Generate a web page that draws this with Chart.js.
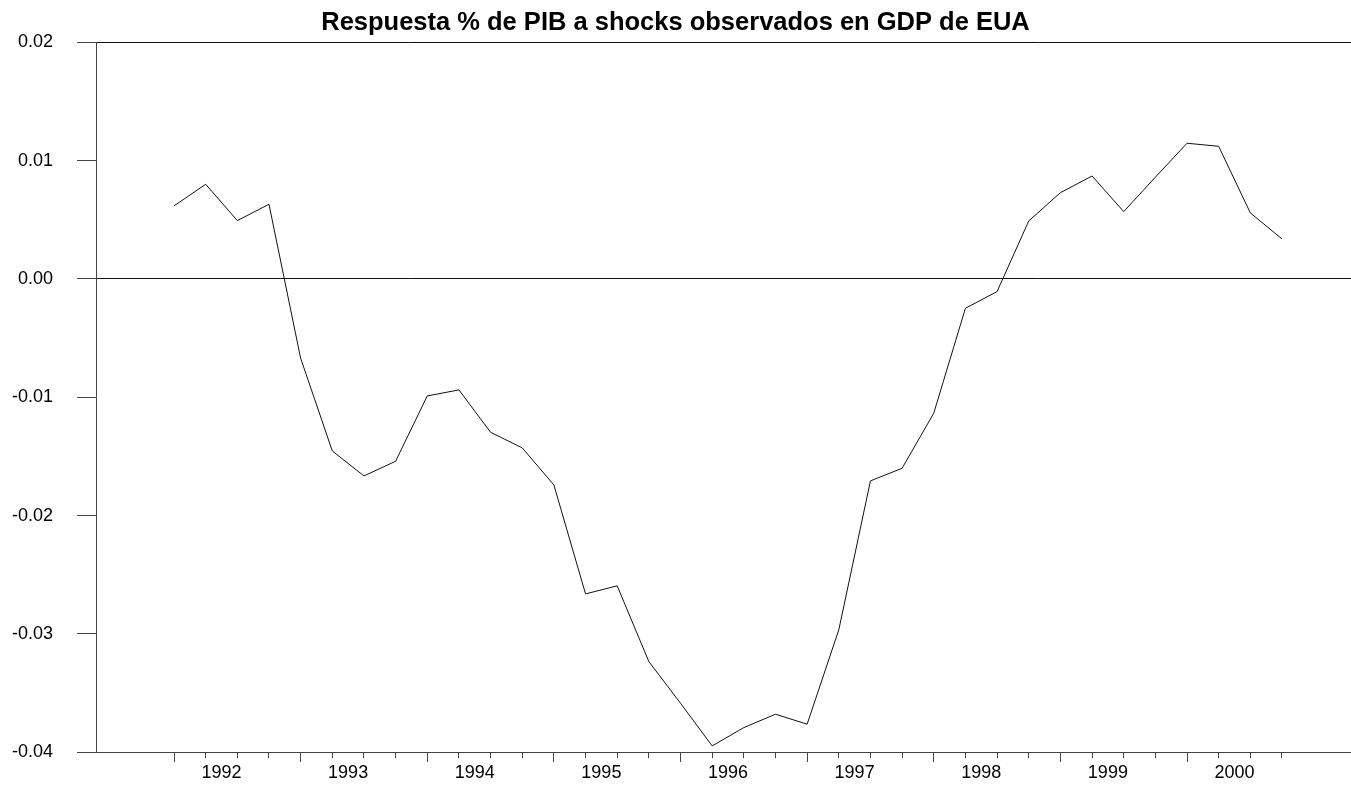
<!DOCTYPE html>
<html lang="es">
<head>
<meta charset="utf-8">
<title>Respuesta % de PIB a shocks observados en GDP de EUA</title>
<script src="https://cdn.jsdelivr.net/npm/chart.js@4/dist/chart.umd.min.js"></script>
<style>
  html, body { margin: 0; padding: 0; background: #fff; }
  #chart { display: block; }
</style>
</head>
<body>
<canvas id="chart" width="1351" height="787"></canvas>
<script>
// Quarterly periods, 1992:1 to 2000:4
const quarters = [
  '1992:1','1992:2','1992:3','1992:4','1993:1','1993:2','1993:3','1993:4',
  '1994:1','1994:2','1994:3','1994:4','1995:1','1995:2','1995:3','1995:4',
  '1996:1','1996:2','1996:3','1996:4','1997:1','1997:2','1997:3','1997:4',
  '1998:1','1998:2','1998:3','1998:4','1999:1','1999:2','1999:3','1999:4',
  '2000:1','2000:2','2000:3','2000:4'
];

// Response of GDP (%) to observed US GDP shocks
const respuesta = [
  0.00617, 0.00800, 0.00493, 0.00631, -0.00670, -0.01454, -0.01665, -0.01541,
  -0.00989, -0.00938, -0.01296, -0.01428, -0.01741, -0.02662, -0.02594, -0.03234,
  -0.03586, -0.03947, -0.03792, -0.03679, -0.03763, -0.02966, -0.01707, -0.01600,
  -0.01135, -0.00248, -0.00107, 0.00490, 0.00729, 0.00870, 0.00569, 0.00860,
  0.01147, 0.01121, 0.00558, 0.00338
];

// Axis labels
const yearLabels = ['1992','1993','1994','1995','1996','1997','1998','1999','2000'];
const yTicks = [-0.04, -0.03, -0.02, -0.01, 0.00, 0.01, 0.02];

const FONT = "'Liberation Sans', Arial, Helvetica, sans-serif";
const AXIS = '#444';

// x runs over the quarter index; the frame leaves room on both sides of the data
const X_MIN = -2.464;
const X_MAX = 37.18;

const points = respuesta.map((v, i) => ({ x: i, y: v }));

// Short ticks every quarter, year label centred over each year's four quarters
const quarterTicks = quarters.map((q, i) => i);
const yearCentres = yearLabels.map((y, k) => 1.5 + 4 * k);
const bottomTicks = quarterTicks.concat(yearCentres).sort((a, b) => a - b);
// Longer ticks at the first quarter of each year
const yearStarts = yearLabels.map((y, k) => 4 * k);

new Chart(document.getElementById('chart'), {
  type: 'line',
  data: {
    datasets: [{
      label: 'Respuesta',
      data: points,
      xAxisID: 'x',
      yAxisID: 'y',
      borderColor: '#111',
      borderWidth: 1,
      pointRadius: 0,
      pointHoverRadius: 0,
      tension: 0,
      fill: false
    }]
  },
  options: {
    responsive: false,
    animation: false,
    devicePixelRatio: 1,
    layout: { padding: { top: 0, right: 0, bottom: 0, left: 0 } },
    plugins: {
      legend: { display: false },
      tooltip: { enabled: false },
      title: {
        display: true,
        text: 'Respuesta % de PIB a shocks observados en GDP de EUA',
        color: '#000',
        font: { family: FONT, size: 25.5, weight: 'bold', lineHeight: 1.2 },
        padding: { top: 7.5, bottom: 4.2 }
      }
    },
    scales: {
      x: {
        type: 'linear',
        position: 'bottom',
        min: X_MIN,
        max: X_MAX,
        afterBuildTicks: (scale) => { scale.ticks = bottomTicks.map(v => ({ value: v })); },
        afterFit: (scale) => { scale.height = 34.7; },
        ticks: {
          autoSkip: false,
          maxRotation: 0,
          padding: 4,
          color: '#000',
          font: { family: FONT, size: 18 },
          callback: (value) => Number.isInteger(value) ? '' : yearLabels[(value - 1.5) / 4]
        },
        grid: {
          drawOnChartArea: false,
          drawTicks: true,
          tickLength: 6,
          tickWidth: 1,
          tickColor: (ctx) => (ctx.tick && Number.isInteger(ctx.tick.value)) ? AXIS : 'rgba(0,0,0,0)'
        },
        border: { display: true, color: AXIS, width: 1 }
      },
      xYear: {
        type: 'linear',
        axis: 'x',
        position: { y: -0.04 },
        min: X_MIN,
        max: X_MAX,
        afterBuildTicks: (scale) => { scale.ticks = yearStarts.map(v => ({ value: v })); },
        ticks: { display: false },
        grid: {
          drawOnChartArea: false,
          drawTicks: true,
          tickLength: 10,
          tickWidth: 1,
          tickColor: AXIS
        },
        border: { display: false }
      },
      y: {
        type: 'linear',
        position: 'left',
        min: -0.04,
        max: 0.02,
        afterBuildTicks: (scale) => { scale.ticks = yTicks.map(v => ({ value: v })); },
        afterFit: (scale) => { scale.width = 96; },
        ticks: {
          padding: 24,
          color: '#000',
          font: { family: FONT, size: 18 },
          callback: (value) => value.toFixed(2)
        },
        grid: {
          drawOnChartArea: true,
          drawTicks: true,
          tickLength: 19,
          tickWidth: 1,
          tickColor: AXIS,
          lineWidth: 1,
          color: (ctx) => (ctx.tick && (Math.abs(ctx.tick.value) < 1e-9 || Math.abs(ctx.tick.value - 0.02) < 1e-9)) ? '#111' : 'rgba(0,0,0,0)'
        },
        border: { display: true, color: AXIS, width: 1 }
      }
    }
  }
});
</script>
</body>
</html>
